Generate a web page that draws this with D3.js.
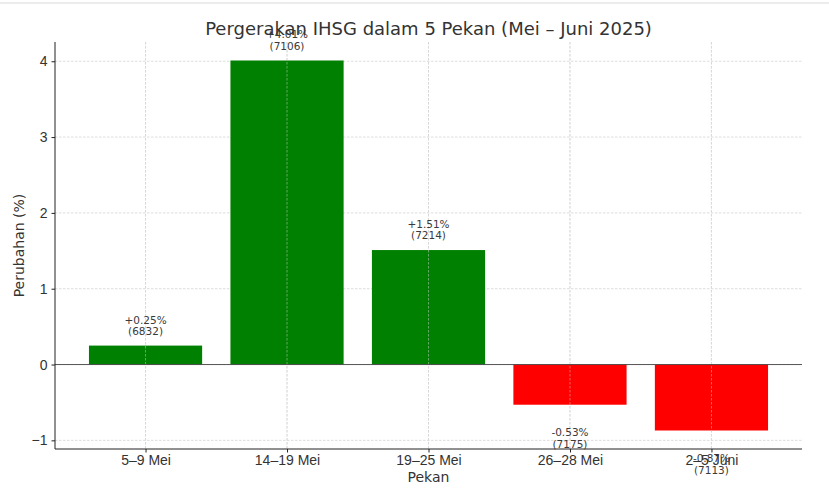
<!DOCTYPE html>
<html>
<head>
<meta charset="utf-8">
<script src="https://cdn.jsdelivr.net/npm/d3@7"></script>
<style>
  body { margin: 0; background: #fff; }
  svg { display: block; font-family: "DejaVu Sans", sans-serif; }
  .grid line { stroke: #d4d4d4; stroke-width: 0.8; stroke-dasharray: 2.5,1.5; }
  .axis path, .axis line { stroke: #222; }
  .axis text { fill: #333; font-size: 14px; }
</style>
</head>
<body>
<div id="chart"></div>
<script>
  const weeks = ["5–9 Mei", "14–19 Mei", "19–25 Mei", "26–28 Mei", "2–5 Juni"];
  const changes = [0.25, 4.01, 1.51, -0.53, -0.87];
  const closes = [6832, 7106, 7214, 7175, 7113];
  const yTicks = [-1, 0, 1, 2, 3, 4];

  const width = 829, height = 488;
  const margin = {top: 42, right: 27, bottom: 39, left: 55};
  const w = width - margin.left - margin.right;
  const h = height - margin.top - margin.bottom;

  const svg = d3.select("#chart").append("svg")
    .attr("width", width)
    .attr("height", height);

  // thin line on top like the screenshot border
  svg.append("rect").attr("x", 0).attr("y", 2).attr("width", width).attr("height", 2).attr("fill", "#ececec");

  const g = svg.append("g")
    .attr("transform", "translate(" + margin.left + "," + margin.top + ")");

  // linear x in "bar index" units, like matplotlib
  const x = d3.scaleLinear().domain([-0.64, 4.64]).range([0, w]);
  const y = d3.scaleLinear().domain([-1.114, 4.254]).range([h, 0]);
  const barW = x(0.8) - x(0);

  // grid
  g.append("g").attr("class", "grid")
    .selectAll("line").data(yTicks).join("line")
    .attr("x1", 0).attr("x2", w)
    .attr("y1", d => y(d)).attr("y2", d => y(d));
  g.append("g").attr("class", "grid")
    .selectAll("line").data(weeks).join("line")
    .attr("x1", (d, i) => x(i)).attr("x2", (d, i) => x(i))
    .attr("y1", 0).attr("y2", h);

  // bars
  g.selectAll(".bar").data(changes).join("rect")
    .attr("class", "bar")
    .attr("x", (d, i) => x(i) - barW / 2)
    .attr("width", barW)
    .attr("y", d => y(Math.max(0, d)))
    .attr("height", d => Math.abs(y(d) - y(0)))
    .attr("fill", d => d >= 0 ? "#008000" : "#ff0000");

  // grid over bars (matplotlib draws the grid above here)
  g.append("g").attr("class", "grid").attr("opacity", 0.6)
    .selectAll("line").data(weeks).join("line")
    .attr("x1", (d, i) => x(i)).attr("x2", (d, i) => x(i))
    .attr("y1", 0).attr("y2", h);

  // zero line
  g.append("line")
    .attr("x1", 0).attr("x2", w)
    .attr("y1", y(0)).attr("y2", y(0))
    .attr("stroke", "#444").attr("stroke-width", 0.9);

  // value labels
  const lab = g.selectAll(".lab").data(changes).join("text")
    .attr("class", "lab")
    .attr("text-anchor", "middle")
    .attr("fill", "#3a3a3a")
    .attr("font-size", "10.5px");
  lab.each(function(d, i) {
    const t = d3.select(this);
    const pct = (d >= 0 ? "+" : "") + d.toFixed(2) + "%";
    let y0;
    if (d >= 0) y0 = y(d + 0.1) - 3 - 11.5;
    else y0 = y(d - 0.3) + 9;
    t.append("tspan").attr("x", x(i)).attr("y", y0).text(pct);
    t.append("tspan").attr("x", x(i)).attr("y", y0 + 11.5).text("(" + closes[i] + ")");
  });

  // axes
  g.append("g").attr("class", "axis")
    .attr("transform", "translate(0," + h + ")")
    .call(d3.axisBottom(x).tickValues(d3.range(weeks.length)).tickFormat(i => weeks[i]).tickSize(3.5).tickPadding(3))
    .call(a => a.select(".domain").attr("d", "M0,0H" + w));

  g.append("g").attr("class", "axis")
    .call(d3.axisLeft(y).tickValues(yTicks).tickFormat(d => d < 0 ? "−" + Math.abs(d) : d).tickSize(3.5).tickPadding(4))
    .call(a => a.select(".domain").attr("d", "M0,0V" + h));

  // titles
  svg.append("text")
    .attr("x", margin.left + w / 2).attr("y", 35)
    .attr("text-anchor", "middle")
    .attr("font-size", "18px").attr("fill", "#333")
    .text("Pergerakan IHSG dalam 5 Pekan (Mei – Juni 2025)");

  svg.append("text")
    .attr("x", margin.left + w / 2).attr("y", 482)
    .attr("text-anchor", "middle")
    .attr("font-size", "14px").attr("fill", "#333")
    .text("Pekan");

  svg.append("text")
    .attr("transform", "translate(24," + (margin.top + h / 2) + ") rotate(-90)")
    .attr("text-anchor", "middle")
    .attr("font-size", "14px").attr("fill", "#333")
    .text("Perubahan (%)");
</script>
</body>
</html>
